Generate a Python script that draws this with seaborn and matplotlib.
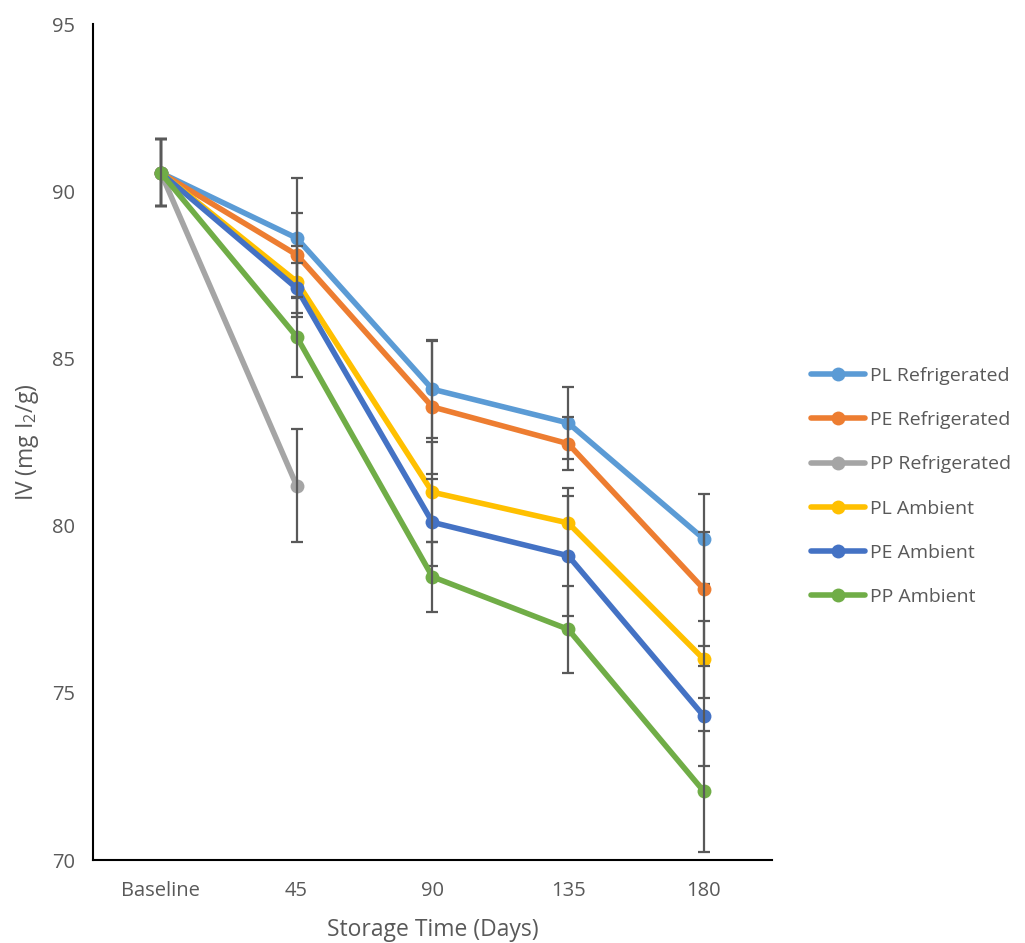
import numpy as np
import pandas as pd
import seaborn as sns
import matplotlib
matplotlib.use("Agg")
import matplotlib.pyplot as plt

categories = ["Baseline", "45", "90", "135", "180"]
series_names = ["PL Refrigerated", "PE Refrigerated", "PP Refrigerated",
                "PL Ambient", "PE Ambient", "PP Ambient"]

pl_refrig = [90.55, 88.6, 84.08, 83.07, 79.6]
pe_refrig = [90.55, 88.1, 83.55, 82.45, 78.1]
pp_refrig = [90.55, 81.2, np.nan, np.nan, np.nan]
pl_amb = [90.55, 87.3, 81.0, 80.08, 76.0]
pe_amb = [90.55, 87.1, 80.1, 79.1, 74.3]
pp_amb = [90.55, 85.65, 78.47, 76.9, 72.05]

pl_refrig_err = [1.0, 1.8, 1.45, 1.08, 1.35]
pe_refrig_err = [1.0, 1.25, 2.0, 0.8, 1.7]
pp_refrig_err = [1.0, 1.7, np.nan, np.nan, np.nan]
pl_amb_err = [1.0, 1.05, 1.5, 1.05, 1.15]
pe_amb_err = [1.0, 0.75, 1.3, 1.8, 1.5]
pp_amb_err = [1.0, 1.2, 1.05, 1.3, 1.8]

values = [pl_refrig, pe_refrig, pp_refrig, pl_amb, pe_amb, pp_amb]
errors = [pl_refrig_err, pe_refrig_err, pp_refrig_err, pl_amb_err, pe_amb_err, pp_amb_err]
colors = ["#5B9BD5", "#ED7D31", "#A5A5A5", "#FFC000", "#4472C4", "#70AD47"]

rows = []
for name, vals, errs in zip(series_names, values, errors):
    for i, (v, e) in enumerate(zip(vals, errs)):
        if not np.isnan(v):
            rows.append({"series": name, "pos": i, "value": v, "err": e})
df = pd.DataFrame(rows)

sns.set_theme(style="white")
plt.rcParams["font.family"] = ["Open Sans", "DejaVu Sans"]
plt.rcParams["mathtext.fontset"] = "custom"
plt.rcParams["mathtext.rm"] = "Open Sans"
plt.rcParams["mathtext.it"] = "Open Sans"

fig = plt.figure(figsize=(10.25, 9.43), dpi=100)
ax = fig.add_axes([0.0907, 0.088, 0.6623, 0.8865])

palette = dict(zip(series_names, colors))
sns.lineplot(data=df, x="pos", y="value", hue="series", hue_order=series_names,
             palette=palette, marker="o", markersize=10, markeredgewidth=0,
             linewidth=4, sort=False, ax=ax, legend=True, errorbar=None)

for i, line in enumerate(ax.lines[:len(series_names)]):
    line.set_zorder(3 + 2 * i)

for i, name in enumerate(series_names):
    sub = df[df["series"] == name]
    ax.errorbar(sub["pos"], sub["value"], yerr=sub["err"], fmt="none",
                ecolor="#595959", elinewidth=1.6, capsize=4.5, capthick=1.6,
                zorder=4 + 2 * i)

ax.set_xlim(-0.5, 4.5)
ax.set_ylim(70, 95)
ax.set_yticks([70, 75, 80, 85, 90, 95])
ax.set_xticks(range(len(categories)))
ax.set_xticklabels(categories)
ax.tick_params(axis="both", length=0, labelsize=14.5, colors="#595959")
ax.tick_params(axis="x", pad=15)
ax.tick_params(axis="y", pad=13)

ax.set_xlabel("Storage Time (Days)", fontsize=16.5, color="#595959", labelpad=12)
ax.set_ylabel("IV (mg I$_2$/g)", fontsize=16.5, color="#595959", labelpad=8)

for side in ["top", "right"]:
    ax.spines[side].set_visible(False)
for side in ["left", "bottom"]:
    ax.spines[side].set_color("black")
    ax.spines[side].set_linewidth(1.5)

handles, labels = ax.get_legend_handles_labels()
leg = ax.legend(handles, labels, loc="center left", bbox_to_anchor=(0.774, 0.484),
                bbox_transform=fig.transFigure, frameon=False, fontsize=14,
                handlelength=2.8, handletextpad=0.25, labelspacing=1.35)
for t in leg.get_texts():
    t.set_color("#595959")

fig.savefig("out.png", dpi=100)
